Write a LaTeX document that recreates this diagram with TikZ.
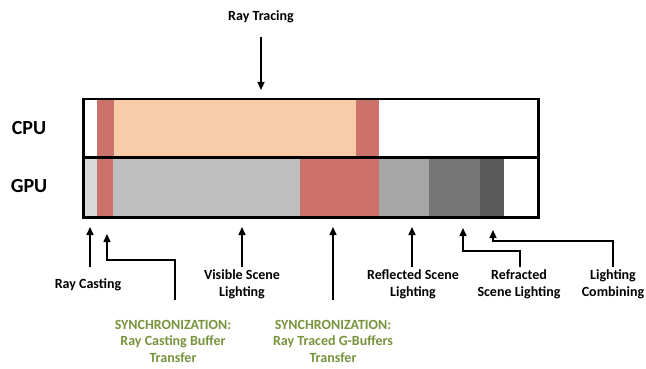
\documentclass[tikz,border=0pt]{standalone}
\usepackage{fontspec}
\setmainfont{Carlito}
\usetikzlibrary{arrows.meta}
\definecolor{cred}{RGB}{205,114,106}
\definecolor{cpeach}{RGB}{248,204,168}
\definecolor{ga}{RGB}{217,217,217}
\definecolor{gb}{RGB}{191,191,191}
\definecolor{gc}{RGB}{166,166,166}
\definecolor{gd}{RGB}{118,118,118}
\definecolor{ge}{RGB}{90,90,90}
\definecolor{cgreen}{RGB}{119,147,60}
\begin{document}
\begin{tikzpicture}[x=1pt,y=-1pt,
  lbl/.style={font=\bfseries\fontsize{14}{16.5}\selectfont, align=center, inner sep=0pt},
  sync/.style={lbl, text=cgreen},
  big/.style={font=\bfseries\fontsize{20}{24}\selectfont, inner sep=0pt},
  arr/.style={line width=1.5pt, -{Triangle[length=8pt,width=7pt]}},
  rowbox/.style={draw=black, line width=2.5pt, minimum width=455pt, minimum height=58pt, anchor=north west, inner sep=0pt}]
\useasboundingbox (0,0) rectangle (646,369);
% CPU fills
\fill[cred] (97,98) rectangle (114,156);
\fill[cpeach] (114,98) rectangle (356,156);
\fill[cred] (356,98) rectangle (379,156);
% GPU fills
\fill[ga] (82,156) rectangle (97,216);
\fill[cred] (97,156) rectangle (113,216);
\fill[gb] (113,156) rectangle (300,216);
\fill[cred] (300,156) rectangle (379,216);
\fill[gc] (379,156) rectangle (429,216);
\fill[gd] (429,156) rectangle (480,216);
\fill[ge] (480,156) rectangle (504,216);
% row frames
\node[rowbox] (cpurow) at (82,98) {};
\node[rowbox, minimum height=60pt] (gpurow) at (82,156) {};
\node[big] (cpu) at (29,128) {CPU};
\node[big] (gpu) at (29,186) {GPU};
% Ray Tracing
\node[lbl] (rt) at (261,17) {Ray Tracing};
\coordinate (rtS) at (261,37);
\coordinate (rtE) at (261,90);
\draw[arr] (rtS) -- (rtE);
% labels below
\node[lbl] (rc) at (88,284.5) {Ray Casting};
\node[lbl] (vis) at (242,284.5) {Visible Scene\\Lighting};
\node[lbl] (refl) at (413,284.5) {Reflected Scene\\Lighting};
\node[lbl] (refr) at (519,284.5) {Refracted\\Scene Lighting};
\node[lbl] (comb) at (613,284.5) {Lighting\\Combining};
\node[sync] (s1) at (173,341) {SYNCHRONIZATION:\\Ray Casting Buffer\\Transfer};
\node[sync] (s2) at (333,341) {SYNCHRONIZATION:\\Ray Traced G-Buffers\\Transfer};
% arrow coordinates
\coordinate (rcS) at (90,267);   \coordinate (rcE) at (90,227);
\coordinate (s1S) at (175,300);  \coordinate (s1E) at (107,234);
\coordinate (visS) at (242,267); \coordinate (visE) at (242,227);
\coordinate (s2S) at (333,300);  \coordinate (s2E) at (333,227);
\coordinate (reflS) at (412,267); \coordinate (reflE) at (412,227);
\coordinate (refrS) at (520,267); \coordinate (refrE) at (463,228);
\coordinate (combS) at (613,267); \coordinate (combE) at (493,230);
\draw[arr] (rcS) -- (rcE);
\draw[arr] (s1S) -- (175,260) -| (s1E);
\draw[arr] (visS) -- (visE);
\draw[arr] (s2S) -- (s2E);
\draw[arr] (reflS) -- (reflE);
\draw[arr] (refrS) -- (520,251) -| (refrE);
\draw[arr] (combS) -- (613,241) -| (combE);
\end{tikzpicture}
\end{document}
